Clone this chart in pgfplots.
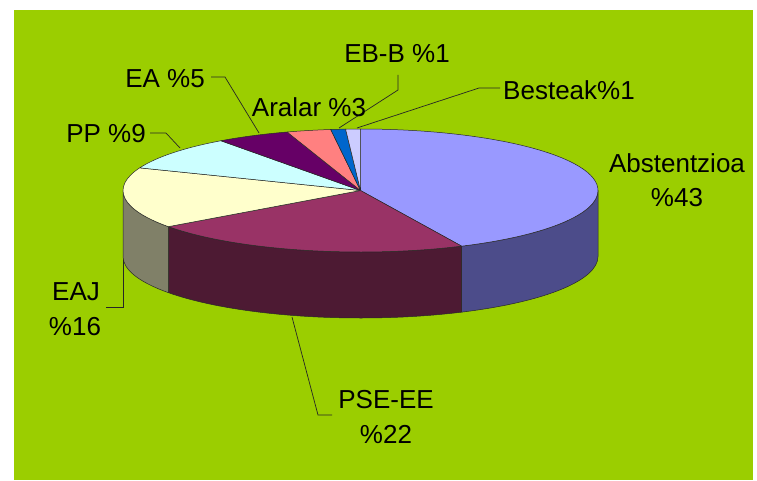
\documentclass[border=0pt]{standalone}
\usepackage{pgfplots}
\pgfplotsset{compat=1.18}
\usepackage{fontspec}
\setmainfont{Liberation Sans}

\definecolor{bggreen}{RGB}{155,206,0}
\definecolor{abstop}{RGB}{153,153,255}
\definecolor{absside}{RGB}{76,76,138}
\definecolor{psetop}{RGB}{153,51,102}
\definecolor{pseside}{RGB}{77,26,51}
\definecolor{eajtop}{RGB}{255,255,204}
\definecolor{eajside}{RGB}{128,128,104}
\definecolor{pptop}{RGB}{204,255,255}
\definecolor{eatop}{RGB}{102,0,102}
\definecolor{araltop}{RGB}{255,128,128}
\definecolor{ebbtop}{RGB}{0,102,204}
\definecolor{bestop}{RGB}{204,204,255}
\definecolor{edgecol}{RGB}{40,40,40}

% data (percent)
\def\vAbst{43}
\def\vPSE{22}
\def\vEAJ{16}
\def\vPP{9}
\def\vEA{5}
\def\vAral{3}
\def\vEBB{1}
\def\vBest{1}

% slice boundary angles, clockwise from 12 o'clock
\pgfmathsetmacro\tA{90}
\pgfmathsetmacro\tB{\tA-\vAbst*3.6}
\pgfmathsetmacro\tC{\tB-\vPSE*3.6}
\pgfmathsetmacro\tD{\tC-\vEAJ*3.6}
\pgfmathsetmacro\tE{\tD-\vPP*3.6}
\pgfmathsetmacro\tF{\tE-\vEA*3.6}
\pgfmathsetmacro\tG{\tF-\vAral*3.6}
\pgfmathsetmacro\tH{\tG-\vEBB*3.6}
\pgfmathsetmacro\tI{\tH-\vBest*3.6}

\newcommand\topslice[3]{%
  \filldraw[fill=#3,draw=edgecol,line width=0.5pt,line join=round]
    (axis cs:360.5,289.5) -- ++(#1:237.5pt and 61.5pt)
    arc[start angle=#1,end angle=#2,x radius=237.5pt,y radius=61.5pt] -- cycle;}
\newcommand\sidewall[3]{%
  \filldraw[fill=#3,draw=edgecol,line width=0.5pt,line join=round]
    (axis cs:360.5,289.5) ++(#1:237.5pt and 61.5pt)
    arc[start angle=#1,end angle=#2,x radius=237.5pt,y radius=61.5pt]
    -- ++(0pt,-66pt)
    arc[start angle=#2,end angle=#1,x radius=237.5pt,y radius=61.5pt] -- cycle;}

\begin{document}
\begin{tikzpicture}[
  lbl/.style={font=\fontsize{26}{30}\selectfont, anchor=base, text=black, inner sep=0pt},
  ld/.style={draw=black!85, line width=0.7pt}]
\begin{axis}[
  scale only axis, width=757pt, height=480pt,
  xmin=0, xmax=757, ymin=0, ymax=480,
  axis lines=none, clip=false
]
\fill[white] (axis cs:0,0) rectangle (axis cs:757,480);
\fill[bggreen] (axis cs:14,0) rectangle (axis cs:753,470);

% side walls (front half)
\sidewall{\tB}{0}{absside}
\sidewall{\tC}{\tB}{pseside}
\sidewall{-180}{\tC}{eajside}

% top faces
\topslice{\tA}{\tB}{abstop}
\topslice{\tB}{\tC}{psetop}
\topslice{\tC}{\tD}{eajtop}
\topslice{\tD}{\tE}{pptop}
\topslice{\tE}{\tF}{eatop}
\topslice{\tF}{\tG}{araltop}
\topslice{\tG}{\tH}{ebbtop}
\topslice{\tH}{\tI}{bestop}

% leader lines
\draw[ld] (axis cs:398,405) -- (axis cs:398,390) -- (axis cs:339,352);
\draw[ld] (axis cs:500,392) -- (axis cs:479,392) -- (axis cs:357,352);
\draw[ld] (axis cs:211,403) -- (axis cs:225,403) -- (axis cs:259,347);
\draw[ld] (axis cs:150,347) -- (axis cs:166,347) -- (axis cs:180,332);
\draw[ld] (axis cs:123,220) -- (axis cs:123,173) -- (axis cs:106,173);
\draw[ld] (axis cs:292,163) -- (axis cs:318,65) -- (axis cs:332,65);

% labels
\node[lbl] at (axis cs:397,417) {EB-B \%1};
\node[lbl] at (axis cs:569,380) {Besteak\%1};
\node[lbl] at (axis cs:165,392) {EA \%5};
\node[lbl] at (axis cs:309,363) {Aralar \%3};
\node[lbl] at (axis cs:106,337) {PP \%9};
\node[lbl] at (axis cs:677,308) {Abstentzioa};
\node[lbl] at (axis cs:677,273) {\%43};
\node[lbl] at (axis cs:76,180) {EAJ};
\node[lbl] at (axis cs:75,145) {\%16};
\node[lbl] at (axis cs:386,72) {PSE-EE};
\node[lbl] at (axis cs:386,37) {\%22};
\end{axis}
\end{tikzpicture}
\end{document}
